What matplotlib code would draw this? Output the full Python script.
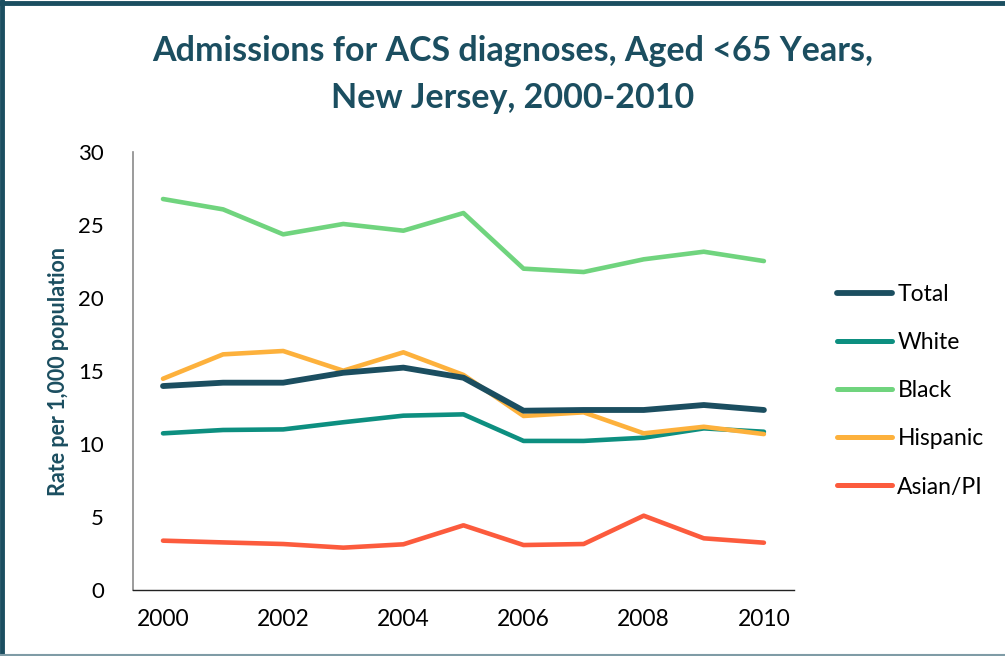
import matplotlib
matplotlib.use("Agg")
import matplotlib.pyplot as plt
from matplotlib.lines import Line2D

years = [2000, 2001, 2002, 2003, 2004, 2005, 2006, 2007, 2008, 2009, 2010]
total = [13.97, 14.2, 14.2, 14.88, 15.23, 14.54, 12.28, 12.33, 12.33, 12.67, 12.33]
white = [10.73, 10.96, 11.0, 11.49, 11.94, 12.03, 10.21, 10.21, 10.43, 11.07, 10.84]
black = [26.78, 26.07, 24.36, 25.07, 24.61, 25.82, 22.01, 21.78, 22.65, 23.17, 22.53]
hispanic = [14.47, 16.14, 16.37, 15.02, 16.28, 14.73, 11.92, 12.17, 10.73, 11.18, 10.68]
asian = [3.38, 3.26, 3.15, 2.9, 3.13, 4.43, 3.08, 3.15, 5.09, 3.54, 3.24]
series_names = ["Total", "White", "Black", "Hispanic", "Asian/PI"]
yticks = [0, 5, 10, 15, 20, 25, 30]
xtick_labels = ["2000", "2002", "2004", "2006", "2008", "2010"]

colors = ["#1b4e60", "#0d8f80", "#70d47e", "#fdb13c", "#fc5b3d"]
widths = [4.2, 3.3, 3.3, 3.3, 3.3]
title_color = "#1b4e60"
FONT = "Lato"

fig = plt.figure(figsize=(10.05, 6.56), dpi=100)
ax = fig.add_axes([0.1323, 0.1006, 0.6577, 0.6677])

xs = list(range(len(years)))
data = [total, white, black, hispanic, asian]
order = [1, 2, 4, 3, 0]
for i in order:
    ax.plot(xs, data[i], color=colors[i], lw=widths[i],
            solid_capstyle="round", solid_joinstyle="round",
            label=series_names[i], zorder=3)

ax.set_xlim(-0.5, len(years) - 0.5)
ax.set_ylim(0, 30)
ax.set_yticks(yticks)
ax.set_yticklabels([str(v) for v in yticks], fontsize=16, family=FONT)
ax.set_xticks(xs[::2])
ax.set_xticklabels(xtick_labels, fontsize=16.5, family=FONT)
ax.tick_params(axis="both", length=0, colors="black")
ax.tick_params(axis="x", pad=14)
ax.tick_params(axis="y", pad=21)
for s in ["top", "right"]:
    ax.spines[s].set_visible(False)
ax.spines["left"].set_color("#8a8a8a")
ax.spines["left"].set_linewidth(1.2)
ax.spines["bottom"].set_color("#222222")
ax.spines["bottom"].set_linewidth(1.0)

ax.set_ylabel("Rate per 1,000 population", fontsize=15.5, fontweight="bold",
              color=title_color, family=FONT)
ax.yaxis.set_label_coords(-0.097, 0.5)

fig.text(0.51, 0.922, "Admissions for ACS diagnoses, Aged <65 Years,",
         ha="center", va="center", fontsize=24.5, fontweight="bold",
         color=title_color, family=FONT)
fig.text(0.51, 0.85, "New Jersey, 2000-2010",
         ha="center", va="center", fontsize=24.5, fontweight="bold",
         color=title_color, family=FONT)

leg_handles = [Line2D([0], [0], color=colors[i], lw=widths[i] if i == 0 else 3.6,
                      solid_capstyle="round") for i in range(5)]
leg = fig.legend(leg_handles, series_names, loc="upper left",
                 bbox_to_anchor=(0.812, 0.598), frameon=False,
                 prop={"family": FONT, "size": 16.5}, handlelength=2.4,
                 handletextpad=0.25, labelspacing=1.18)

# border
fig.add_artist(Line2D([0.002, 0.002], [0, 1], transform=fig.transFigure,
                      color=title_color, lw=3.5))
fig.add_artist(Line2D([0, 1], [0.996, 0.996], transform=fig.transFigure,
                      color=title_color, lw=3.5))
fig.add_artist(Line2D([0, 1], [0.002, 0.002], transform=fig.transFigure,
                      color="#7f9ca6", lw=1.5))

fig.savefig("out.png", dpi=100)
